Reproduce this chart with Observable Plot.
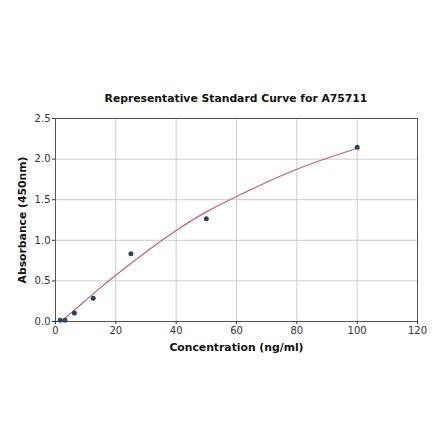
<!DOCTYPE html>
<html>
<head>
<meta charset="utf-8">
<script src="https://cdn.jsdelivr.net/npm/d3@7"></script>
<script src="https://cdn.jsdelivr.net/npm/@observablehq/plot@0.6"></script>
<style>
  body { margin: 0; background: #fff; font-family: "DejaVu Sans", sans-serif; }
  #wrap { width: 440px; height: 441px; position: relative; }
  #title { position: absolute; top: 92px; left: 55px; width: 362px; text-align: center;
           font-weight: bold; font-size: 10.8px; color: #111; }
  #chart { position: absolute; top: 112px; left: 0; }
  #chart svg g[aria-label="x-axis label"] text,
  #chart svg g[aria-label="y-axis label"] text { font-weight: bold; font-size: 10.8px; fill: #111; }
</style>
</head>
<body>
<div id="wrap">
  <div id="title">Representative Standard Curve for A75711</div>
  <div id="chart"></div>
</div>
<script>
// puntos medidos del estandar
const conc = [1.5625, 3.125, 6.25, 12.5, 25, 50, 100];
const absorb = [0.015, 0.015, 0.105, 0.287, 0.833, 1.266, 2.146];

// curva ajustada
const curveX = [2, 5, 10, 15, 20, 30, 40, 50, 60, 70, 80, 90, 100];
const curveY = [0, 0.1, 0.26, 0.42, 0.57, 0.855, 1.12, 1.35, 1.54, 1.715, 1.875, 2.01, 2.134];

const xTicks = [0, 20, 40, 60, 80, 100, 120];
const yTicks = [0, 0.5, 1.0, 1.5, 2.0, 2.5];

const points = conc.map((c, i) => ({ c, a: absorb[i] }));
const fit = curveX.map((c, i) => ({ c, a: curveY[i] }));

const chart = Plot.plot({
  width: 440,
  height: 329,
  marginLeft: 55,
  marginRight: 23,
  marginTop: 6,
  marginBottom: 120,
  style: { fontFamily: "DejaVu Sans, sans-serif", fontSize: "10px", color: "#333" },
  x: { domain: [0, 120] },
  y: { domain: [0, 2.5] },
  marks: [
    Plot.gridX(xTicks, { stroke: "#cccccc", strokeOpacity: 1 }),
    Plot.gridY(yTicks, { stroke: "#cccccc", strokeOpacity: 1 }),
    Plot.frame({ stroke: "#555" }),
    Plot.axisX(xTicks, { tickSize: 3, tickPadding: 2, label: "Concentration (ng/ml)", labelAnchor: "center", labelArrow: "none", labelOffset: 29 }),
    Plot.axisY(yTicks, { tickSize: 3, tickPadding: 2, tickFormat: d3.format(".1f"), label: "Absorbance (450nm)", labelAnchor: "center", labelArrow: "none", labelOffset: 37 }),
    Plot.line(fit, { x: "c", y: "a", stroke: "#c0607a", strokeWidth: 1.2, curve: "natural" }),
    Plot.dot(points, { x: "c", y: "a", r: 2.5, fill: "#2b4560" })
  ]
});

d3.select('#chart').append(() => chart);
</script>
</body>
</html>
